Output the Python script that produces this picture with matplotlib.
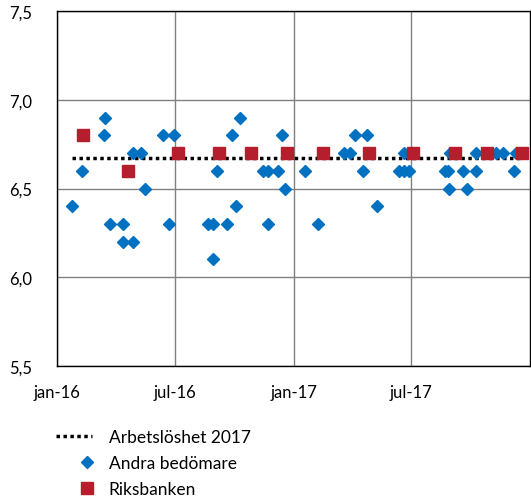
import matplotlib
matplotlib.use("Agg")
import matplotlib.pyplot as plt
from matplotlib.legend_handler import HandlerLine2D
import pandas as pd

plt.rcParams['font.family'] = ['Lato', 'DejaVu Sans']

# Andra bedömare (prognoser för arbetslöshet 2017)
andra_datum = [
    "2016-01-25", "2016-02-09", "2016-03-15", "2016-03-14", "2016-03-23",
    "2016-04-12", "2016-04-12", "2016-04-27", "2016-04-27", "2016-05-10",
    "2016-05-17", "2016-06-13", "2016-06-22", "2016-06-30", "2016-08-22",
    "2016-08-30", "2016-08-30", "2016-09-05", "2016-09-20", "2016-09-28",
    "2016-10-04", "2016-10-10", "2016-11-15", "2016-11-22", "2016-11-23",
    "2016-12-08", "2016-12-14", "2016-12-19", "2017-01-18", "2017-02-07",
    "2017-03-20", "2017-03-29", "2017-04-05", "2017-04-18", "2017-04-25",
    "2017-05-09", "2017-06-13", "2017-06-20", "2017-06-20", "2017-06-28",
    "2017-08-23", "2017-08-28", "2017-08-29", "2017-08-31", "2017-09-20",
    "2017-09-26", "2017-10-09", "2017-10-09", "2017-11-09", "2017-11-21",
    "2017-12-07", "2017-12-10",
]
andra_varden = [
    6.4, 6.6, 6.9, 6.8, 6.3,
    6.3, 6.2, 6.2, 6.7, 6.7,
    6.5, 6.8, 6.3, 6.8, 6.3,
    6.3, 6.1, 6.6, 6.3, 6.8,
    6.4, 6.9, 6.6, 6.3, 6.6,
    6.6, 6.8, 6.5, 6.6, 6.3,
    6.7, 6.7, 6.8, 6.6, 6.8,
    6.4, 6.6, 6.7, 6.6, 6.6,
    6.6, 6.6, 6.5, 6.7, 6.6,
    6.5, 6.7, 6.6, 6.7, 6.7,
    6.6, 6.7,
]

# Riksbanken
riks_datum = [
    "2016-02-11", "2016-04-20", "2016-07-06", "2016-09-07", "2016-10-27",
    "2016-12-21", "2017-02-15", "2017-04-27", "2017-07-04", "2017-09-07",
    "2017-10-26", "2017-12-20",
]
riks_varden = [6.8, 6.6, 6.7, 6.7, 6.7, 6.7, 6.7, 6.7, 6.7, 6.7, 6.7, 6.7]

# Utfall arbetslöshet 2017
utfall_2017 = 6.67
utfall_datum = ["2016-01-25", "2017-12-20"]

x_ticks = ["2016-01-01", "2016-07-01", "2017-01-01", "2017-07-01"]
x_ticklabels = ["jan-16", "jul-16", "jan-17", "jul-17"]
y_ticks = [5.5, 6.0, 6.5, 7.0, 7.5]
y_ticklabels = ["5,5", "6,0", "6,5", "7,0", "7,5"]

blue = "#0070C0"
red = "#B41E2D"


class MarkerRight(HandlerLine2D):
    # med numpoints=1 hamnar markören i mitten av xdata -> flytta åt höger
    def get_xdata(self, legend, xdescent, ydescent, width, height, fontsize):
        xdata = [-xdescent + 0.7 * width, -xdescent + width]
        return xdata, [-xdescent + 0.85 * width]


fig = plt.figure(figsize=(5.31, 5.02), dpi=100)
ax = fig.add_axes([0.107, 0.269, 0.891, 0.707])

ax.plot(pd.to_datetime(utfall_datum), [utfall_2017, utfall_2017],
        color="black", linestyle=(0, (1, 1)), linewidth=2.5,
        label="Arbetslöshet 2017", zorder=2)
andra, = ax.plot(pd.to_datetime(andra_datum), andra_varden, linestyle="none",
                 marker="D", markersize=6.5, color=blue, label="Andra bedömare", zorder=3)
riks, = ax.plot(pd.to_datetime(riks_datum), riks_varden, linestyle="none",
                marker="s", markersize=8, color=red, label="Riksbanken", zorder=4)

ax.set_xlim(pd.Timestamp("2016-01-01"), pd.Timestamp("2018-01-01"))
ax.set_ylim(5.5, 7.5)
ax.set_xticks(pd.to_datetime(x_ticks))
ax.set_xticklabels(x_ticklabels)
ax.set_yticks(y_ticks)
ax.set_yticklabels(y_ticklabels)
ax.tick_params(length=0, labelsize=12)
ax.tick_params(axis="x", pad=13)
ax.tick_params(axis="y", pad=18)
ax.grid(True, color="#808080", linewidth=1)
ax.set_axisbelow(True)
for s in ax.spines.values():
    s.set_color("black")
    s.set_linewidth(1)

fig.legend(loc="upper left", bbox_to_anchor=(0.092, 0.158), frameon=False,
           fontsize=12.5, handlelength=2.1, handletextpad=0.95, labelspacing=0.6,
           borderaxespad=0,
           handler_map={andra: MarkerRight(numpoints=1), riks: MarkerRight(numpoints=1)})

fig.savefig("out.png", dpi=100)
